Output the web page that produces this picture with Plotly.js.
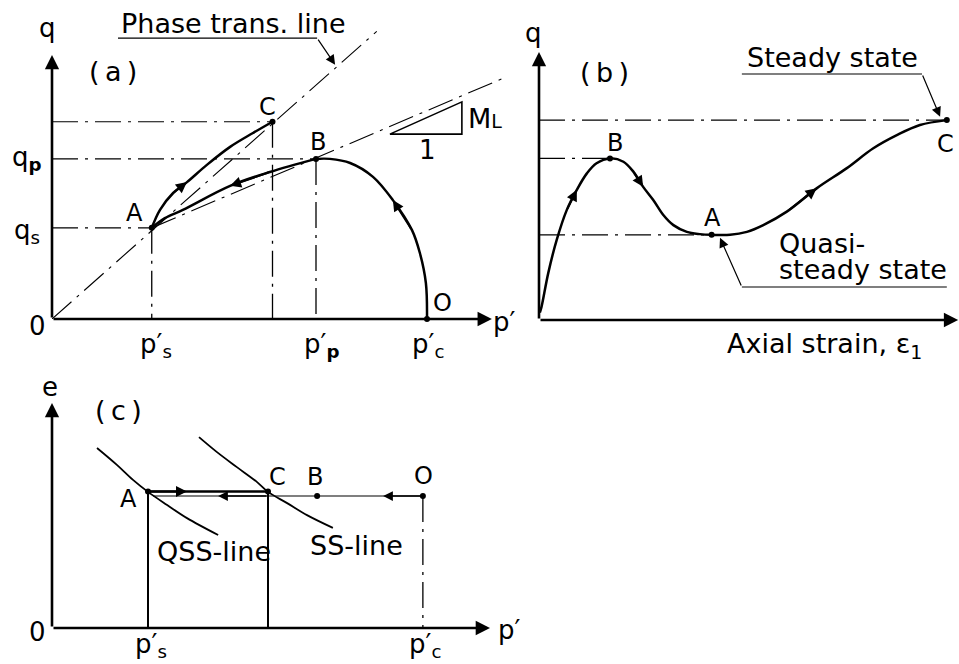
<!DOCTYPE html>
<html><head><meta charset="utf-8">
<script src="https://cdn.plot.ly/plotly-3.0.1.min.js"></script>
<style>
html,body{margin:0;padding:0;background:#fff;}
#chart{width:959px;height:664px;}
</style>
</head><body><div id="chart"></div>
<script>
// ---------- Panel (a): effective stress path, p'-q plane ----------
const aPointNames = ['A', 'B', 'C', 'O'];
const aPointP = [2.66, 7.04, 5.88, 10.0];
const aPointQ = [2.43, 4.27, 5.26, 0.0];
const aPathOB_P = [10.0, 9.97, 9.81, 9.6, 9.09, 8.56, 7.95, 7.41, 7.04];
const aPathOB_Q = [0.0, 0.96, 1.76, 2.37, 3.17, 3.79, 4.16, 4.27, 4.27];
const aPathBA_P = [7.04, 5.81, 4.75, 3.49, 3.01, 2.66];
const aPathBA_Q = [4.27, 3.92, 3.55, 2.91, 2.69, 2.43];
const aPathAC_P = [2.66, 2.88, 3.23, 3.6, 4.13, 4.75, 5.36, 5.88];
const aPathAC_Q = [2.43, 2.91, 3.36, 3.65, 4.11, 4.59, 4.96, 5.26];
const aPhaseLineP = [0, 8.66];
const aPhaseLineQ = [0, 7.67];
const aMLLineP = [2.66, 12.1];
const aMLLineQ = [2.43, 6.45];
const aSlopeTriP = [9.01, 10.93, 10.93, 9.01];
const aSlopeTriQ = [4.93, 5.79, 4.93, 4.93];
const aAxisEnd = [11.73, 7.04];

// ---------- Panel (b): q vs axial strain ----------
const bStrain = [0.02, 0.06, 0.22, 0.42, 0.66, 0.90, 1.14, 1.37, 1.69, 2.01, 2.25, 2.48, 2.72, 2.96,
                 3.2, 3.52, 3.83, 4.11, 4.55, 4.95, 5.34, 5.9, 6.61, 7.33, 7.96, 8.52, 9.07, 9.71];
const bQ = [0.2, 0.35, 1.25, 2.13, 2.93, 3.47, 3.91, 4.18, 4.31, 4.22, 3.95, 3.55, 3.2, 2.8,
            2.53, 2.35, 2.29, 2.27, 2.27, 2.35, 2.53, 2.89, 3.51, 4.05, 4.58, 4.93, 5.2, 5.33];
const bPointNames = ['B', 'A', 'C'];
const bPointIdx = [8, 17, 27];
const bArrowIdx = [5, 11, 22];
const bAxisEnd = [9.98, 7.15];

// ---------- Panel (c): void ratio e vs p' ----------
const cPointNames = ['A', 'C', 'B', 'O'];
const cPointP = [2.56, 5.76, 7.07, 9.89];
const cPointE = [3.64, 3.64, 3.52, 3.52];
const cUndrainedP = [9.89, 7.07, 5.76, 2.7];
const cUndrainedE = [3.52, 3.52, 3.52, 3.52];
const cQSS_P = [1.2, 1.73, 2.16, 2.56, 3.07, 3.6, 4.43];
const cQSS_E = [4.8, 4.35, 3.95, 3.63, 3.28, 2.93, 2.48];
const cSS_P = [3.92, 4.4, 4.93, 5.47, 5.76, 6.27, 6.8, 7.49];
const cSS_E = [5.09, 4.69, 4.29, 3.89, 3.63, 3.33, 3.01, 2.67];
const cArrowP = [3.6, 4.43, 8.83];
const cAxisEnd = [11.68, 6.0];

// ---------- helpers ----------
const FAM = 'DejaVu Sans, sans-serif';
const FONT = {family: FAM, size: 27, color: '#000'};
const FONT_PT = {family: FAM, size: 24, color: '#000'};
const FONT_SYM = {family: FAM, size: 26, color: '#000'};
const DASHDOT = '26px,7px,3px,7px';
const A1 = ['x', 'y'], A2 = ['x2', 'y2'], A3 = ['x3', 'y3'];
const traces = [];
const anns = [];
const shapes = [];

function line(ax, xs, ys, w, dash, spline) {
  traces.push({type: 'scatter', mode: 'lines', x: xs, y: ys, xaxis: ax[0], yaxis: ax[1],
    line: {color: '#000', width: w, dash: dash || 'solid', shape: spline ? 'spline' : 'linear', smoothing: 1},
    hoverinfo: 'skip', showlegend: false});
}
function dots(ax, xs, ys) {
  traces.push({type: 'scatter', mode: 'markers', x: xs, y: ys, xaxis: ax[0], yaxis: ax[1],
    marker: {color: '#000', size: 6}, cliponaxis: false, hoverinfo: 'skip', showlegend: false});
}
function arrow(ax, x, y, tx, ty, w, size) {
  anns.push({xref: ax[0], yref: ax[1], axref: ax[0], ayref: ax[1], x: x, y: y, ax: tx, ay: ty,
    text: '', showarrow: true, arrowhead: 2, arrowsize: size, arrowwidth: w, arrowcolor: '#000',
    standoff: 0, startstandoff: 0});
}
function label(ax, x, y, text, dx, dy, opts) {
  anns.push(Object.assign({xref: ax[0], yref: ax[1], x: x, y: y, text: text, showarrow: false,
    xshift: dx || 0, yshift: dy || 0, font: FONT, xanchor: 'center', yanchor: 'middle'}, opts || {}));
}
function seg(ax, x0, y0, x1, y1, w) {
  shapes.push({type: 'line', xref: ax[0], yref: ax[1], x0: x0, y0: y0, x1: x1, y1: y1,
    line: {color: '#000', width: w}});
}

// ---------- panel (a) ----------
{
  const gx = [], gy = [], vx = [], vy = [];
  for (let i = 0; i < 3; i++) {
    gx.push(0, aPointP[i], null); gy.push(aPointQ[i], aPointQ[i], null);
    vx.push(aPointP[i], aPointP[i], null); vy.push(aPointQ[i], 0, null);
  }
  line(A1, gx, gy, 1.1, DASHDOT);
  line(A1, vx, vy, 1.3, DASHDOT);
  line(A1, aPhaseLineP, aPhaseLineQ, 1.1, DASHDOT);
  line(A1, aMLLineP, aMLLineQ, 1.1, DASHDOT);
  line(A1, aPathOB_P, aPathOB_Q, 2.5, 'solid', true);
  line(A1, aPathBA_P, aPathBA_Q, 2.5, 'solid', true);
  line(A1, aPathAC_P, aPathAC_Q, 2.5, 'solid', true);
  line(A1, aSlopeTriP, aSlopeTriQ, 1.6);
  dots(A1, aPointP, aPointQ);

  arrow(A1, 0, aAxisEnd[1], 0, 0, 2.6, 1.1);
  arrow(A1, aAxisEnd[0], 0, 0, 0, 2.6, 1.1);
  arrow(A1, aPathOB_P[4], aPathOB_Q[4], aPathOB_P[3], aPathOB_Q[3], 2, 1.1);
  arrow(A1, aPathBA_P[2], aPathBA_Q[2], aPathBA_P[1], aPathBA_Q[1], 2, 1.1);
  arrow(A1, aPathAC_P[3], aPathAC_Q[3], aPathAC_P[2], aPathAC_Q[2], 2, 1.1);

  label(A1, 0, 7.76, 'q', -5, 0, {font: FONT_SYM});
  label(A1, 1.63, 6.61, '(\u2009a\u2009)');
  label(A1, 4.85, 7.87, 'Phase trans. line');
  seg(A1, 1.76, 7.49, 7.07, 7.49, 1.2);
  arrow(A1, 7.55, 6.78, 7.07, 7.49, 1.2, 1.6);
  const shiftsA = [[-17, 15], [2, 17], [-5, 15], [15, 16]];
  for (let i = 0; i < 4; i++) label(A1, aPointP[i], aPointQ[i], aPointNames[i], shiftsA[i][0], shiftsA[i][1], {font: FONT_PT});
  label(A1, 0, aPointQ[1], 'q<sub><b>p</b></sub>', -25, 0, {font: FONT_SYM});
  label(A1, 0, aPointQ[0], 'q<sub>s</sub>', -25, -4, {font: FONT_SYM});
  label(A1, 0, 0, '0', -15, -7, {font: FONT_SYM});
  label(A1, aPointP[0], 0, 'p\u2032<sub>s</sub>', 4, -26, {font: FONT_SYM});
  label(A1, aPointP[1], 0, 'p\u2032<sub><b>p</b></sub>', 5, -26, {font: FONT_SYM});
  label(A1, aPointP[3], 0, 'p\u2032<sub>c</sub>', 1, -26, {font: FONT_SYM});
  label(A1, aAxisEnd[0], 0, 'p\u2032', 13, -3, {font: FONT_SYM});
  label(A1, 11.55, 5.35, "M<span style='font-size:19px'>L</span>");
  label(A1, 10.0, 4.51, '1', 0, 0, {font: FONT_SYM});
}

// ---------- panel (b) ----------
{
  const gx = [], gy = [];
  bPointIdx.forEach(i => { gx.push(0, bStrain[i], null); gy.push(bQ[i], bQ[i], null); });
  line(A2, gx, gy, 1.1, DASHDOT);
  line(A2, bStrain, bQ, 2.5, 'solid', true);
  dots(A2, bPointIdx.map(i => bStrain[i]), bPointIdx.map(i => bQ[i]));

  arrow(A2, 0, bAxisEnd[1], 0, 0, 2.6, 1.1);
  arrow(A2, bAxisEnd[0], 0, 0, 0, 2.6, 1.1);
  bArrowIdx.forEach(i => arrow(A2, bStrain[i], bQ[i], bStrain[i - 1], bQ[i - 1], 2, 1.1));

  label(A2, 0, 7.65, 'q', -6, 0, {font: FONT_SYM});
  label(A2, 1.55, 6.61, '(\u2009b\u2009)');
  label(A2, 6.98, 7.01, 'Steady state');
  seg(A2, 4.83, 6.56, 9.12, 6.56, 1.2);
  arrow(A2, 9.55, 5.42, 9.12, 6.56, 1.2, 1.6);
  const shiftsB = [[5, 15], [1, 17], [-1, -24]];
  bPointIdx.forEach((i, k) => label(A2, bStrain[i], bQ[i], bPointNames[k], shiftsB[k][0], shiftsB[k][1], {font: FONT_PT}));
  label(A2, 5.67, 2.05, 'Quasi-', 0, 0, {xanchor: 'left'});
  label(A2, 5.67, 1.36, 'steady state', 0, 0, {xanchor: 'left'});
  seg(A2, 4.83, 0.88, 9.71, 0.88, 1.2);
  arrow(A2, 4.31, 2.19, 4.83, 0.88, 1.2, 1.6);
  label(A2, 6.79, 0, 'Axial strain, \u03b5<sub>1</sub>', 0, -25);
}

// ---------- panel (c) ----------
{
  line(A3, [cPointP[0], cPointP[0], null, cPointP[1], cPointP[1]], [cPointE[0], 0, null, cPointE[1], 0], 2);
  line(A3, [cPointP[3], cPointP[3]], [cPointE[3], 0], 1.3, DASHDOT);
  line(A3, cQSS_P, cQSS_E, 1.8, 'solid', true);
  line(A3, cSS_P, cSS_E, 1.8, 'solid', true);
  line(A3, cUndrainedP, cUndrainedE, 1.2);
  line(A3, [cPointP[0], cPointP[1]], [cPointE[0], cPointE[1]], 2.5);
  dots(A3, cPointP, cPointE);

  arrow(A3, 0, cAxisEnd[1], 0, 0, 2.6, 1.1);
  arrow(A3, cAxisEnd[0], 0, 0, 0, 2.6, 1.1);
  arrow(A3, cArrowP[0], cPointE[0], cPointP[0], cPointE[0], 2, 1.1);
  arrow(A3, cArrowP[1], cUndrainedE[2], cUndrainedP[2], cUndrainedE[2], 1.3, 1.5);
  arrow(A3, cArrowP[2], cUndrainedE[0], cUndrainedP[0], cUndrainedE[0], 1.3, 1.5);

  label(A3, 0, cAxisEnd[1], 'e', -2, 16, {font: FONT_SYM});
  label(A3, 1.76, 5.79, '(\u2009c\u2009)');
  const shiftsC = [[-20, -7], [9, 15], [-2, 19], [1, 20]];
  for (let i = 0; i < 4; i++) label(A3, cPointP[i], cPointE[i], cPointNames[i], shiftsC[i][0], shiftsC[i][1], {font: FONT_PT});
  label(A3, 4.32, 2.05, 'QSS-line');
  label(A3, 8.13, 2.21, 'SS-line');
  label(A3, 0, 0, '0', -15, -4, {font: FONT_SYM});
  label(A3, cPointP[0], 0, 'p\u2032<sub>s</sub>', 3, -17, {font: FONT_SYM});
  label(A3, cPointP[3], 0, 'p\u2032<sub>c</sub>', 2, -17, {font: FONT_SYM});
  label(A3, cAxisEnd[0], 0, 'p\u2032', 19, -2, {font: FONT_SYM});
}

const hidden = {visible: false, fixedrange: true};
const layout = {
  width: 959, height: 664,
  margin: {l: 0, r: 0, t: 0, b: 0},
  paper_bgcolor: '#fff', plot_bgcolor: 'rgba(0,0,0,0)',
  showlegend: false,
  font: FONT,
  xaxis: Object.assign({domain: [52 / 959, 517 / 959], range: [0, 12.4], anchor: 'y'}, hidden),
  yaxis: Object.assign({domain: [1 - 319 / 664, 1 - 19 / 664], range: [0, 8], anchor: 'x'}, hidden),
  xaxis2: Object.assign({domain: [539 / 959, 1], range: [0, 10], anchor: 'y2'}, hidden),
  yaxis2: Object.assign({domain: [1 - 320 / 664, 1 - 20 / 664], range: [0, 8], anchor: 'x2'}, hidden),
  xaxis3: Object.assign({domain: [52 / 959, 517 / 959], range: [0, 12.4], anchor: 'y3'}, hidden),
  yaxis3: Object.assign({domain: [1 - 628 / 664, 1 - 384.25 / 664], range: [0, 6.5], anchor: 'x3'}, hidden),
  annotations: anns,
  shapes: shapes
};
Plotly.newPlot('chart', traces, layout, {displayModeBar: false, staticPlot: true});
</script>
</body></html>
